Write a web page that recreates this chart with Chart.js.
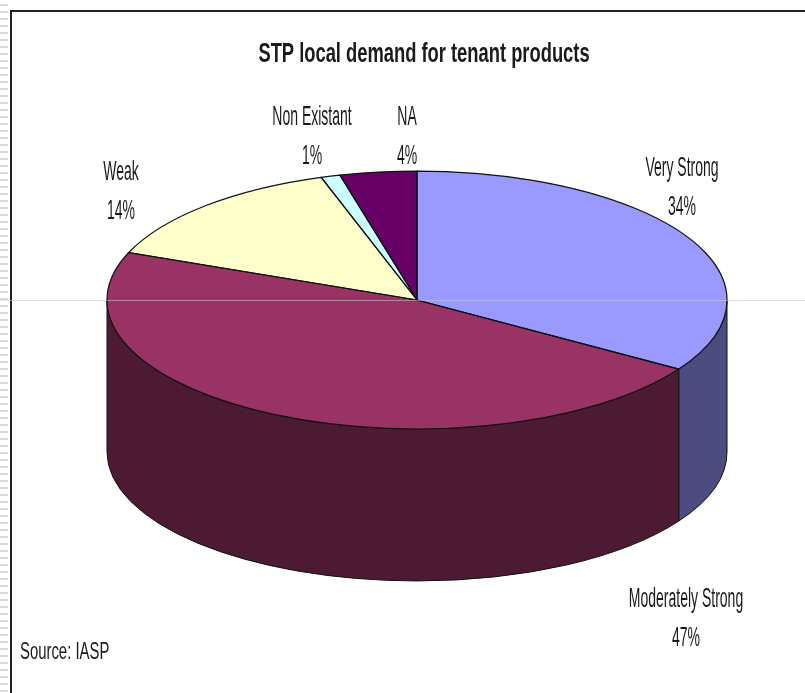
<!DOCTYPE html>
<html>
<head>
<meta charset="utf-8">
<script src="https://cdn.jsdelivr.net/npm/chart.js@4.4.1/dist/chart.umd.min.js"></script>
<style>
  html, body { margin: 0; padding: 0; background: #fff; }
  #wrap { position: relative; width: 805px; height: 693px; overflow: hidden; }
  #ruler { position: absolute; left: 0; top: 0; width: 8px; height: 693px;
    background: repeating-linear-gradient(to bottom, #fff 0 4px, #d9d9d9 4px 6px, #fff 6px 7px); }
  #frame { position: absolute; left: 10px; top: 10px; width: 800px; height: 700px;
    border-left: 2px solid #222; border-top: 2px solid #222; }
  #scan { position: absolute; left: 0; top: 300px; width: 805px; height: 1px; background: rgba(205,205,205,0.55); z-index: 2; }
  #box { position: absolute; left: 0; top: 0; width: 805px; height: 693px; }
</style>
</head>
<body>
<div id="wrap">
  <div id="ruler"></div>
  <div id="frame"></div>
  <div id="box"><canvas id="pieChart"></canvas></div>
  <div id="scan"></div>
</div>
<script>
// data
const categories = ['Very Strong', 'Moderately Strong', 'Weak', 'Non Existant', 'NA'];
const shares = [34, 47, 14, 1, 4];

// styles
const topColors = ['#9999FF', '#993366', '#FFFFCC', '#CCFFFF', '#660066'];
const sideColors = ['#4C4C80', '#4D1A34', '#80806A', '#668080', '#330033'];

// label anchors (centre x, first baseline y)
const labelX = [682, 686, 121, 312, 407];
const labelY = [176, 607, 180, 125, 125];

const tilt = 0.416;      // vertical squash of the pie
const depth = 152;       // thickness of the 3d side, px
const centerY = 300;     // where the tilted pie sits
const textFont = '"Liberation Sans", Arial, sans-serif';

function applyTilt(ctx, el) {
  ctx.translate(el.x, centerY);
  ctx.scale(1, tilt);
  ctx.translate(-el.x, -el.y);
}

function strokeFlat(ctx, w) {
  ctx.save();
  ctx.setTransform(1, 0, 0, 1, 0, 0);
  ctx.lineWidth = w || 1;
  ctx.strokeStyle = '#111';
  ctx.stroke();
  ctx.restore();
}

function squeezedText(ctx, txt, x, y, sx, align) {
  ctx.save();
  ctx.translate(x, y);
  ctx.scale(sx, 1);
  ctx.textAlign = align || 'center';
  ctx.fillText(txt, 0, 0);
  ctx.restore();
}

const pie3d = {
  id: 'pie3d',
  beforeDatasetsDraw(chart) {
    const ctx = chart.ctx;
    const arcs = chart.getDatasetMeta(0).data;
    ctx.save();
    applyTilt(ctx, arcs[0]);
    const D = depth / tilt;
    arcs.forEach((el, i) => {
      const a0 = Math.max(el.startAngle, 0);
      const a1 = Math.min(el.endAngle, Math.PI);
      if (a1 <= a0) return;
      const r = el.outerRadius;
      ctx.beginPath();
      ctx.arc(el.x, el.y, r, a0, a1);
      ctx.lineTo(el.x + r * Math.cos(a1), el.y + r * Math.sin(a1) + D);
      ctx.arc(el.x, el.y + D, r, a1, a0, true);
      ctx.closePath();
      ctx.fillStyle = sideColors[i];
      ctx.fill();
      strokeFlat(ctx, 1);
    });
  },
  afterDatasetsDraw(chart) {
    const ctx = chart.ctx;
    const arcs = chart.getDatasetMeta(0).data;
    arcs.forEach(el => {
      ctx.beginPath();
      ctx.moveTo(el.x, el.y);
      ctx.arc(el.x, el.y, el.outerRadius, el.startAngle, el.endAngle);
      ctx.closePath();
      strokeFlat(ctx, 1.2);
    });
    ctx.restore();
  },
  afterDraw(chart) {
    const ctx = chart.ctx;
    const total = shares.reduce((a, b) => a + b, 0);
    ctx.save();
    ctx.fillStyle = '#1a1a1a';
    ctx.textBaseline = 'alphabetic';
    // title
    ctx.font = 'bold 28px ' + textFont;
    squeezedText(ctx, 'STP local demand for tenant products', 424, 62, 0.655);
    // slice labels
    ctx.font = '28px ' + textFont;
    categories.forEach((c, i) => {
      const pct = Math.round(shares[i] / total * 100) + '%';
      squeezedText(ctx, c, labelX[i], labelY[i], 0.5);
      squeezedText(ctx, pct, labelX[i], labelY[i] + 39, 0.5);
    });
    // source note
    ctx.font = '24px ' + textFont;
    squeezedText(ctx, 'Source: IASP', 20, 659, 0.62, 'left');
    ctx.restore();
  }
};

const ctx = document.getElementById('pieChart').getContext('2d');
const chart = new Chart(ctx, {
  type: 'pie',
  data: {
    labels: categories,
    datasets: [{
      data: shares,
      backgroundColor: topColors,
      borderWidth: 0,
      hoverOffset: 0,
      clip: false
    }]
  },
  options: {
    responsive: true,
    maintainAspectRatio: false,
    animation: false,
    events: [],
    layout: { padding: { left: 107, right: 78, top: 0, bottom: 73 } },
    plugins: {
      legend: { display: false },
      tooltip: { enabled: false },
      title: { display: false }
    }
  },
  plugins: [pie3d]
});
</script>
</body>
</html>
